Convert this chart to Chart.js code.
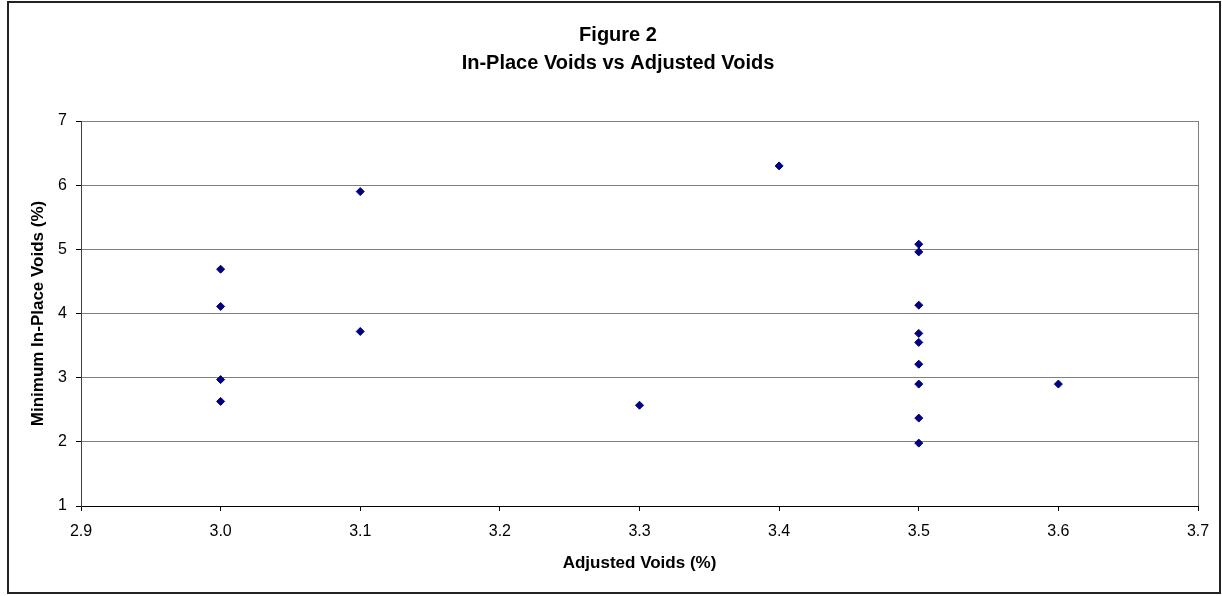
<!DOCTYPE html>
<html lang="en">
<head>
    <meta charset="UTF-8">
    <title>Figure 2 - In-Place Voids vs Adjusted Voids</title>
    <script src="https://cdn.jsdelivr.net/npm/chart.js"></script>
    <style>
        body { margin: 0; background: #fff; }
        canvas { display: block; }
    </style>
</head>
<body>
    <canvas id="voidsChart" width="1222" height="596"></canvas>

    <script>
        // Adjusted voids (x) and minimum in-place voids (y)
        const adjustedVoids = [3.0, 3.0, 3.0, 3.0, 3.1, 3.1, 3.3, 3.4, 3.5, 3.5, 3.5, 3.5, 3.5, 3.5, 3.5, 3.5, 3.5, 3.6];
        const inPlaceVoids  = [4.69, 4.11, 2.97, 2.63, 5.90, 3.72, 2.57, 6.30, 5.08, 4.96, 4.13, 3.69, 3.55, 3.21, 2.90, 2.37, 1.98, 2.90];

        const titleLines = ["Figure 2", "In-Place Voids vs Adjusted Voids"];
        const xAxisTitle = "Adjusted Voids (%)";
        const yAxisTitle = "Minimum In-Place Voids (%)";

        const points = adjustedVoids.map((x, i) => ({ x: x, y: inPlaceVoids[i] }));

        // Outer frame of the chart and right edge of the plot area
        const framePlugin = {
            id: "frame",
            beforeDraw(chart) {
                const ctx = chart.ctx;
                ctx.save();
                ctx.fillStyle = "#fff";
                ctx.fillRect(0, 0, chart.width, chart.height);
                ctx.strokeStyle = "#222";
                ctx.lineWidth = 2;
                ctx.strokeRect(8, 2, 1212, 591);
                ctx.restore();
            },
            beforeDatasetsDraw(chart) {
                const { ctx, chartArea } = chart;
                ctx.save();
                ctx.strokeStyle = "#808080";
                ctx.lineWidth = 1;
                ctx.beginPath();
                ctx.moveTo(chartArea.right + 0.5, chartArea.top);
                ctx.lineTo(chartArea.right + 0.5, chartArea.bottom);
                ctx.stroke();
                ctx.restore();
            }
        };

        Chart.defaults.font.family = "'Liberation Sans', Arial, sans-serif";
        Chart.defaults.color = "#000";

        const ctx = document.getElementById("voidsChart").getContext("2d");
        new Chart(ctx, {
            type: "scatter",
            data: {
                datasets: [{
                    label: "Voids",
                    data: points,
                    pointStyle: "rectRot",
                    pointRadius: 4,
                    pointBorderWidth: 1,
                    pointBackgroundColor: "#000080",
                    pointBorderColor: "#000080"
                }]
            },
            options: {
                responsive: false,
                animation: false,
                layout: {
                    padding: { left: 14, right: 0, top: 0, bottom: 10 }
                },
                plugins: {
                    legend: { display: false },
                    tooltip: { enabled: false },
                    title: {
                        display: true,
                        text: titleLines,
                        color: "#000",
                        font: { size: 20, weight: "bold", lineHeight: 1.4 },
                        padding: { top: 21.5, bottom: 43.5 }
                    }
                },
                scales: {
                    x: {
                        type: "linear",
                        min: 2.9,
                        max: 3.7,
                        afterFit: scale => {
                            scale.height = 80;
                            scale.paddingRight = 24;
                            scale.paddingLeft = 0;
                        },
                        ticks: {
                            stepSize: 0.1,
                            padding: 11,
                            font: { size: 16 },
                            callback: value => value.toFixed(1)
                        },
                        grid: {
                            drawOnChartArea: false,
                            tickLength: 5,
                            tickColor: "#000"
                        },
                        border: { color: "#000" },
                        title: {
                            display: true,
                            text: xAxisTitle,
                            font: { size: 17, weight: "bold" },
                            padding: { top: 0, bottom: 12 }
                        }
                    },
                    y: {
                        min: 1,
                        max: 7,
                        afterFit: scale => {
                            scale.width = 67;
                        },
                        ticks: {
                            stepSize: 1,
                            padding: 9,
                            font: { size: 16 }
                        },
                        grid: {
                            color: "#808080",
                            tickLength: 5,
                            tickColor: "#000"
                        },
                        border: { color: "#404040" },
                        title: {
                            display: true,
                            text: yAxisTitle,
                            font: { size: 17, weight: "bold" },
                            padding: { top: 14, bottom: 0 }
                        }
                    }
                }
            },
            plugins: [framePlugin]
        });
    </script>
</body>
</html>
